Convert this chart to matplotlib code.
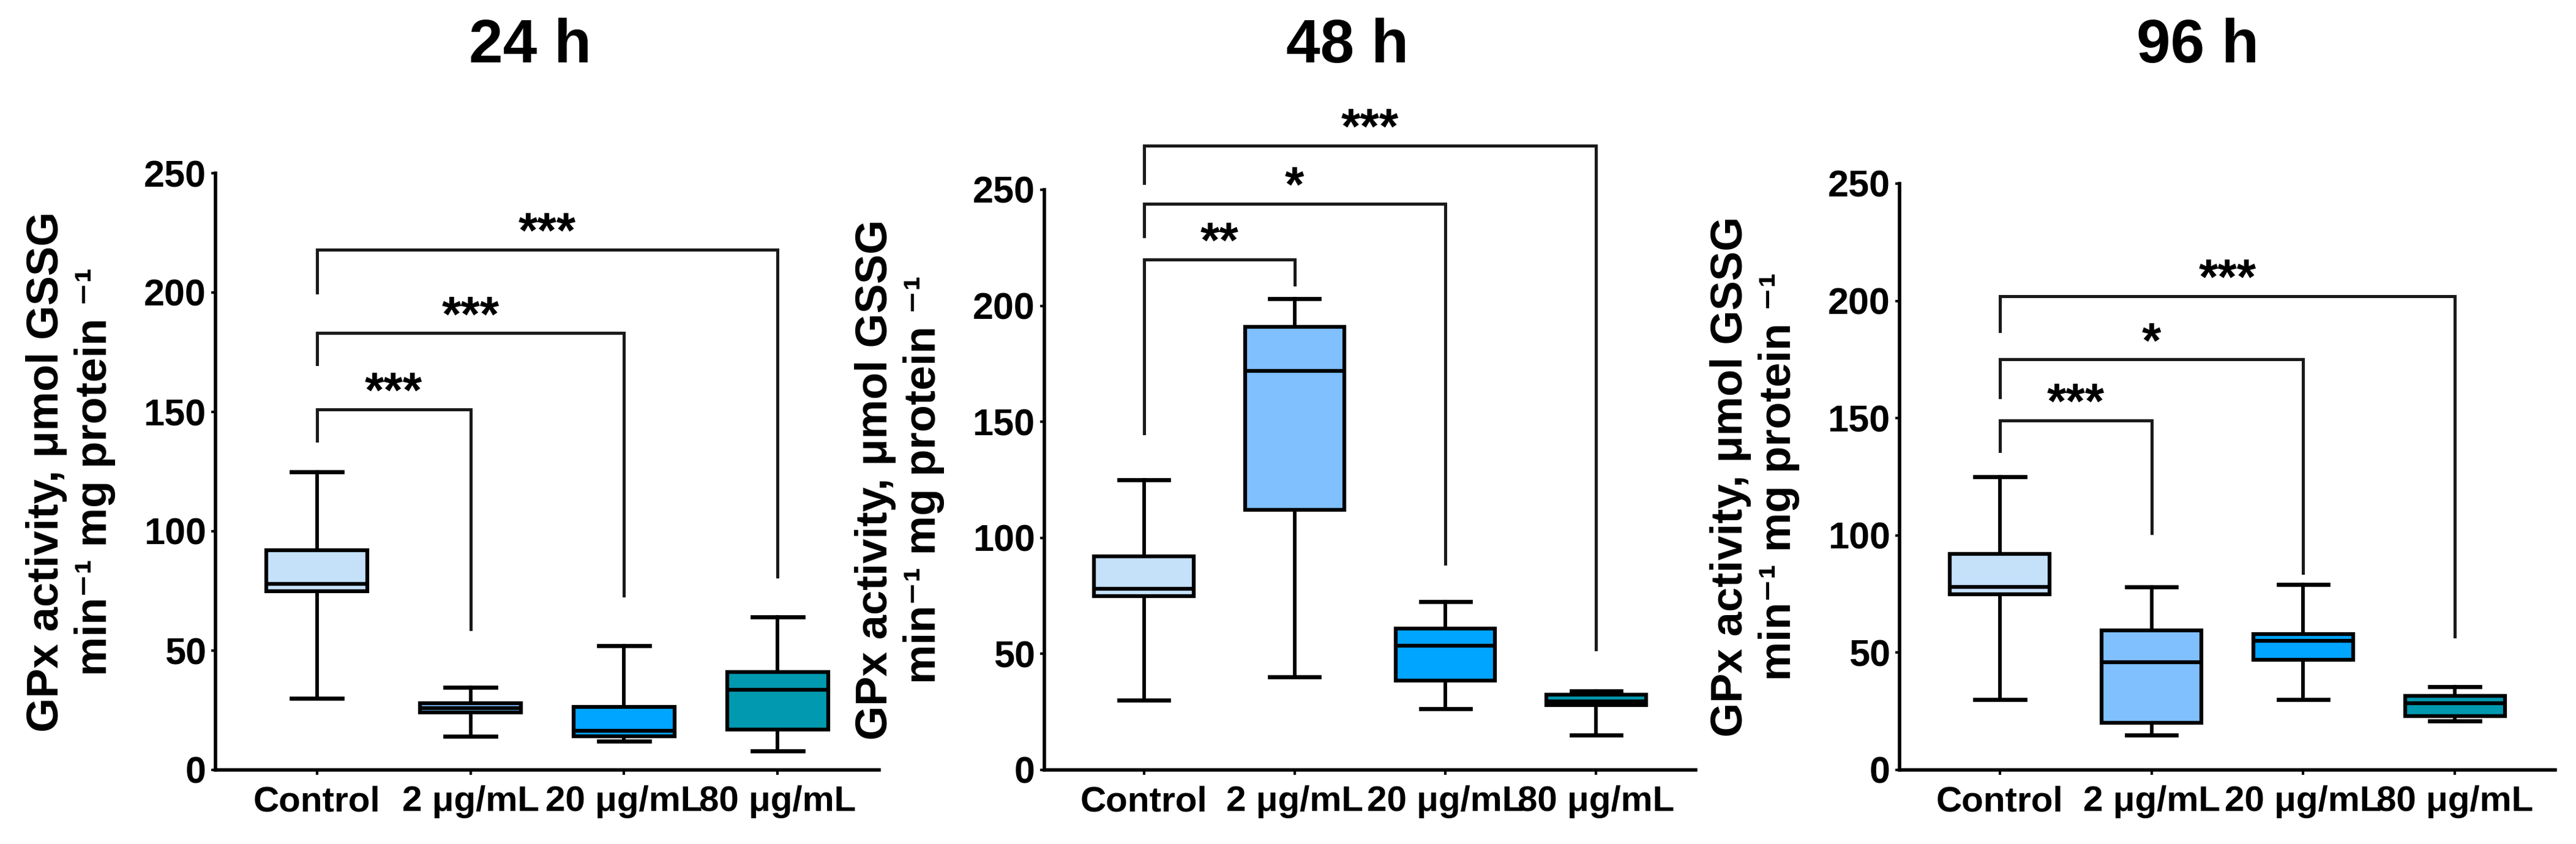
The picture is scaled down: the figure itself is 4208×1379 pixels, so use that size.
import matplotlib
matplotlib.use('Agg')
from matplotlib import pyplot as plt

plt.rcParams['font.family'] = ['Liberation Sans', 'DejaVu Sans']
plt.rcParams['font.weight'] = 'bold'

# groups and colours
groups = ['Control', '2 μg/mL', '20 μg/mL', '80 μg/mL']
colors = ['#c5e1fa', '#80c0ff', '#00a5ff', '#0099b0']
times = ['24 h', '48 h', '96 h']

# box statistics (whisker low, Q1, median, Q3, whisker high)
lo_24 = [30, 14, 12, 8]
q1_24 = [75, 24, 14, 17]
med_24 = [78, 26, 16.5, 33.5]
q3_24 = [92, 28, 26.5, 41]
hi_24 = [125, 34.5, 52, 64]

lo_48 = [30, 40, 26.5, 15]
q1_48 = [75, 112, 38.5, 28]
med_48 = [78, 172, 53.5, 29.5]
q3_48 = [92, 191, 61, 32.5]
hi_48 = [125, 203, 72.5, 34]

lo_96 = [30, 15, 30, 21]
q1_96 = [75, 20, 47, 23]
med_96 = [78, 46, 55, 28.5]
q3_96 = [92, 59.5, 58, 31.5]
hi_96 = [125, 78, 79, 35.5]

# significance brackets: control vs group index
br_target = [1, 2, 3]
br_top_24 = [151, 183, 218]
br_left_24 = [138, 170, 200]
br_right_24 = [59, 73, 81]
br_lab_24 = ['***', '***', '***']

br_top_48 = [220, 244, 269]
br_left_48 = [145, 230, 253]
br_right_48 = [209, 89, 52]
br_lab_48 = ['**', '*', '***']

br_top_96 = [149, 175, 202]
br_left_96 = [136, 159, 187]
br_right_96 = [101, 84, 57]
br_lab_96 = ['***', '*', '***']

panels = [
    (lo_24, q1_24, med_24, q3_24, hi_24, br_top_24, br_left_24, br_right_24, br_lab_24),
    (lo_48, q1_48, med_48, q3_48, hi_48, br_top_48, br_left_48, br_right_48, br_lab_48),
    (lo_96, q1_96, med_96, q3_96, hi_96, br_top_96, br_left_96, br_right_96, br_lab_96),
]

W, H = 4208, 1379
fig = plt.figure(figsize=(W / 100, H / 100), dpi=100)

# axes boxes in pixels: left, right, top(250), bottom(0)
boxes_px = [(352, 1436, 283, 1258), (1706, 2770, 310, 1258), (3103, 4174, 300, 1258)]
title_x = [866, 2201, 3590]

ylab = 'GPx activity, μmol GSSG\nmin⁻¹ mg protein ⁻¹'

for k, (lo, q1, med, q3, hi, btop, bleft, bright, blab) in enumerate(panels):
    l, r, t, b = boxes_px[k]
    ax = fig.add_axes([l / W, 1 - b / H, (r - l) / W, (b - t) / H])

    stats = []
    for i in range(4):
        stats.append(dict(whislo=lo[i], q1=q1[i], med=med[i], q3=q3[i], whishi=hi[i], fliers=[]))
    bp = ax.bxp(stats, positions=range(4), widths=0.66, patch_artist=True, showfliers=False,
                boxprops=dict(edgecolor='black', linewidth=4.5),
                medianprops=dict(color='black', linewidth=4.5),
                whiskerprops=dict(color='black', linewidth=4.2),
                capprops=dict(color='black', linewidth=4.8))
    for patch, c in zip(bp['boxes'], colors):
        patch.set_facecolor(c)

    # brackets
    for j, tgt in enumerate(br_target):
        ax.plot([0, 0, tgt, tgt], [bleft[j], btop[j], btop[j], bright[j]],
                color='#1a1a1a', lw=3.6, clip_on=False, solid_joinstyle='miter')
        ax.annotate(blab[j], xy=(tgt / 2, btop[j]), xytext=(0, 3), textcoords='offset points',
                    ha='center', va='baseline', fontsize=58, fontweight='bold',
                    annotation_clip=False)

    ax.set_xlim(-0.66, 3.66)
    ax.set_ylim(0, 250)
    ax.set_yticks([0, 50, 100, 150, 200, 250])
    ax.set_xticks(range(4))
    ax.set_xticklabels(groups)
    ax.spines['top'].set_visible(False)
    ax.spines['right'].set_visible(False)
    ax.spines['left'].set_linewidth(4)
    ax.spines['bottom'].set_linewidth(4)
    ax.tick_params(axis='y', length=5, width=3, pad=6, labelsize=44)
    ax.tick_params(axis='x', length=6, width=3, pad=12, labelsize=42)
    for lab in ax.get_xticklabels() + ax.get_yticklabels():
        lab.set_fontweight('bold')

    ax.set_ylabel(ylab, fontsize=52, fontweight='bold', linespacing=1.2)
    ax.yaxis.set_label_coords(-163 / (r - l), 0.5)

    fig.text(title_x[k] / W, 1 - 76 / H, times[k], ha='center', va='center',
             fontsize=72, fontweight='bold')

fig.savefig('out.png', dpi=100)
